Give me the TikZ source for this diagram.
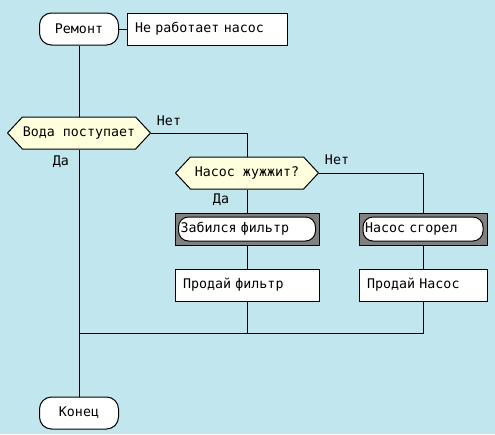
\documentclass[tikz,border=0pt]{standalone}
\usepackage{fontspec}
\setmonofont{DejaVu Sans Mono}
\usetikzlibrary{shapes.symbols}
\definecolor{drakonbg}{RGB}{193,230,238}
\definecolor{drakonq}{RGB}{255,255,221}
\definecolor{drakongray}{RGB}{128,128,128}
\begin{document}
\begin{tikzpicture}[
x=1pt, y=-1pt,
every node/.style={font=\ttfamily\fontsize{13.3}{15}\selectfont},
line/.style={draw, line width=1pt},
term/.style={
rectangle,
rounded corners=12pt,
draw, line width=1pt,
fill=white,
minimum width=79pt,
minimum height=32pt,
inner sep=0pt
},
textbox/.style={
rectangle,
draw, line width=1pt,
fill=white,
minimum height=32pt,
inner xsep=8pt, inner ysep=0pt,
text width=#1,
align=left
},
question/.style={
signal,
signal to=east and west,
signal pointer angle=94,
draw, line width=1pt,
fill=drakonq,
minimum width=143pt,
minimum height=32pt,
inner sep=0pt
},
casebox/.style={
rectangle,
draw, line width=1pt,
fill=drakongray,
minimum width=#1,
minimum height=32pt
},
caseinner/.style={
rectangle,
rounded corners=10pt,
draw, line width=1pt,
fill=white,
minimum height=24pt,
inner xsep=2pt, inner ysep=0pt,
text width=#1,
align=left
},
lbl/.style={inner sep=0pt}
]
\fill[drakonbg] (0,0) rectangle (495,434);
\useasboundingbox (0,0) rectangle (495,434);
% nodes
\node[term] (start) at (79,29) {Ремонт};
\node[textbox=144pt] (title) at (207,29) {Не работает насос};
\node[question] (q1) at (79,133) {Вода поступает};
\node[question] (q2) at (247,173) {Насос жужжит?};
\node[casebox=144pt] (case1) at (247,229) {};
\node[caseinner=133pt] (case1in) at (247,229) {Забился фильтр};
\node[casebox=128pt] (case2) at (423,229) {};
\node[caseinner=116pt] (case2in) at (423,229) {Насос сгорел};
\node[textbox=128pt] (act1) at (247,285) {Продай фильтр};
\node[textbox=112pt] (act2) at (423,285) {Продай Насос};
\node[term] (finish) at (79,413) {Конец};
\coordinate (merge) at (79,333);
% labels
\node[lbl] (no1) at (169,121) {Нет};
\node[lbl] (yes1) at (61,162) {Да};
\node[lbl] (no2) at (337,160) {Нет};
\node[lbl] (yes2) at (221,200) {Да};
% connectors
\draw[line] (start.east) -- (title.west);
\draw[line] (start.south) -- (q1.north);
\draw[line] (q1.south) -- (finish.north);
\draw[line] (q1.east) -| (q2.north);
\draw[line] (q2.south) -- (case1.north);
\draw[line] (q2.east) -| (case2.north);
\draw[line] (case1.south) -- (act1.north);
\draw[line] (case2.south) -- (act2.north);
\draw[line] (act1.south) -- (act1.south |- merge);
\draw[line] (act2.south) |- (merge);
\end{tikzpicture}
\end{document}
